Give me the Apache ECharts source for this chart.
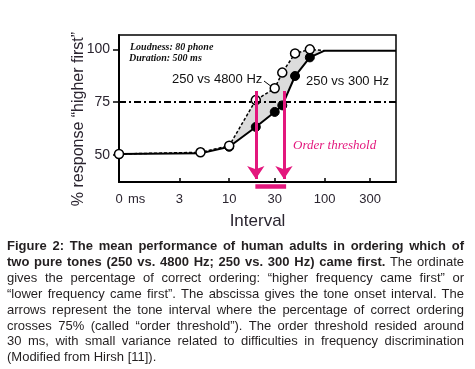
<!DOCTYPE html>
<html>
<head>
<meta charset="utf-8">
<script src="https://cdn.jsdelivr.net/npm/echarts@6/dist/echarts.min.js"></script>
<style>
  html, body { margin: 0; padding: 0; background: #fff; }
  #wrap { position: relative; width: 475px; height: 369px; }
  #chart { position: absolute; left: 0; top: 0; width: 475px; height: 369px; }
  #caption {
    position: absolute; left: 7px; top: 238px; width: 457px;
    font-family: "Liberation Sans", Arial, sans-serif; font-size: 13px;
    line-height: 15.9px; color: #231f20;
  }
  #caption span.l { display: block; white-space: nowrap; text-align: justify; text-align-last: justify; }
  #caption span.last { display: block; white-space: nowrap; }
</style>
</head>
<body>
<div id="wrap">
  <div id="chart"></div>
  <div id="caption">
    <span class="l"><b>Figure 2: The mean performance of human adults in ordering which of</b></span>
    <span class="l"><b>two pure tones (250 vs. 4800 Hz; 250 vs. 300 Hz) came first.</b> The ordinate</span>
    <span class="l">gives the percentage of correct ordering: “higher frequency came first” or</span>
    <span class="l">“lower frequency came first”. The abscissa gives the tone onset interval. The</span>
    <span class="l">arrows represent the tone interval where the percentage of correct ordering</span>
    <span class="l">crosses 75% (called “order threshold”). The order threshold resided around</span>
    <span class="l">30 ms, with small variance related to difficulties in frequency discrimination</span>
    <span class="last">(Modified from Hirsh [11]).</span>
  </div>
</div>
<script>
// tone onset interval (ms); 0 ms sits at the left end of the log axis
const intervalsMs = [0, 5, 10, 19, 30, 36, 49, 70, 100, 560];
// % "higher first", 250 vs 4800 Hz (open circles, dashed)
const wideSplit = [50.5, 51.3, 54.4, 76.0, 81.6, 89.0, 98.1, 100.0, 99.4];
const wideMarked = [0, 1, 2, 3, 4, 5, 6, 7];
// % "higher first", 250 vs 300 Hz (filled circles, solid)
const narrowSplit = [50.5, 50.8, 53.9, 63.3, 70.4, 73.5, 87.4, 96.2, 99.4, 99.4];
const narrowMarked = [2, 3, 4, 5, 6, 7];

const xTickMs = [3, 10, 30, 100, 300];
const yTicks = [50, 75, 100];
const criterion = 75;

// order threshold arrows and bar
const thresholdMs = [19, 37.5];
const arrowSpan = [80.3, 38.7];
const thresholdBarMs = [18.8, 39.5];
const thresholdBarLevel = 35.4;

const X_MIN = Math.log10(0.7);
const X_MAX = Math.log10(560);
const PINK = '#e3177d';
const INK = '#2b2530';

function toX(ms) {
    return ms === 0 ? X_MIN : Math.log10(ms);
}

function seriesData(values, marked) {
    return values.map((v, i) => {
        const item = { value: [toX(intervalsMs[i]), v] };
        if (marked.indexOf(i) < 0) item.symbol = 'none';
        return item;
    });
}

const chart = echarts.init(document.getElementById('chart'), null, { renderer: 'canvas' });

const option = {
    backgroundColor: '#fff',
    animation: false,
    grid: {
        left: 119, right: 79, top: 35, bottom: 187,
        show: true, borderColor: '#000', borderWidth: 1.5
    },
    xAxis: {
        type: 'value',
        min: X_MIN,
        max: X_MAX,
        name: 'Interval',
        nameLocation: 'middle',
        nameGap: 31,
        nameTextStyle: { fontFamily: 'Liberation Sans', fontSize: 17, color: INK },
        axisLine: { onZero: false, lineStyle: { color: '#000', width: 2 } },
        axisTick: {
            show: true, inside: true, length: 4,
            customValues: xTickMs.map(toX),
            lineStyle: { color: '#000', width: 1.5 }
        },
        axisLabel: {
            customValues: [X_MIN].concat(xTickMs.map(toX)),
            margin: 11,
            fontFamily: 'Liberation Sans', fontSize: 13, color: INK,
            formatter: function (v) {
                if (Math.abs(v - X_MIN) < 1e-6) return '0';
                return String(Math.round(Math.pow(10, v)));
            }
        },
        splitLine: { show: false }
    },
    yAxis: {
        type: 'value',
        min: 37.25,
        max: 106.8,
        name: '% response “higher first”',
        nameLocation: 'middle',
        nameGap: 32,
        nameMoveOverlap: false,
        nameTextStyle: {
            fontFamily: 'Liberation Sans', fontSize: 16, color: INK,
            padding: [0, 21, 0, 0]
        },
        axisLine: { onZero: false, lineStyle: { color: '#000', width: 2 } },
        axisTick: {
            show: true, length: 6, customValues: yTicks,
            lineStyle: { color: '#000', width: 1.5 }
        },
        axisLabel: {
            customValues: yTicks,
            margin: 9,
            fontFamily: 'Liberation Sans', fontSize: 14, color: INK
        },
        splitLine: { show: false }
    },
    graphic: [
        { type: 'text', left: 128, top: 193, style: { text: 'ms', font: '13px "Liberation Sans"', fill: INK } },
        { type: 'text', left: 130, top: 42, style: { text: 'Loudness: 80 phone', font: 'italic bold 10px "Liberation Serif"', fill: '#111' } },
        { type: 'text', left: 129, top: 53, style: { text: 'Duration: 500 ms', font: 'italic bold 10px "Liberation Serif"', fill: '#111' } },
        { type: 'text', left: 172, top: 73, style: { text: '250 vs 4800 Hz', font: '13px "Liberation Sans"', fill: '#111' } },
        { type: 'line', shape: { x1: 264, y1: 81, x2: 272, y2: 87 }, style: { stroke: '#000', lineWidth: 1 } },
        { type: 'text', left: 306, top: 75, style: { text: '250 vs 300 Hz', font: '13px "Liberation Sans"', fill: '#111' } },
        { type: 'text', left: 293, top: 139, style: { text: 'Order threshold', font: 'italic 13px "Liberation Serif"', fill: PINK } }
    ],
    series: [
        {
            name: 'gap',
            type: 'custom',
            z: 1,
            silent: true,
            data: [0],
            renderItem: function (params, api) {
                const pts = [];
                wideSplit.forEach((v, i) => pts.push(api.coord([toX(intervalsMs[i]), v])));
                for (let i = wideSplit.length - 1; i >= 0; i--) {
                    pts.push(api.coord([toX(intervalsMs[i]), narrowSplit[i]]));
                }
                return { type: 'polygon', shape: { points: pts }, style: { fill: '#dcdcdc' } };
            }
        },
        {
            name: '250 vs 300 Hz',
            type: 'line',
            z: 3,
            data: seriesData(narrowSplit, narrowMarked),
            symbol: 'circle',
            symbolSize: 9,
            itemStyle: { color: '#000', borderColor: '#000', borderWidth: 1 },
            lineStyle: { color: '#000', width: 2 },
            markLine: {
                silent: true,
                symbol: 'none',
                label: { show: false },
                lineStyle: { color: '#000', width: 2, type: [7, 3, 2, 3] },
                data: [{ yAxis: criterion }]
            }
        },
        {
            name: '250 vs 4800 Hz',
            type: 'line',
            z: 4,
            data: seriesData(wideSplit, wideMarked),
            symbol: 'circle',
            symbolSize: 9,
            itemStyle: { color: '#fff', borderColor: '#000', borderWidth: 1.5 },
            lineStyle: { color: '#000', width: 1.5, type: [3, 2] }
        },
        {
            name: 'arrows',
            type: 'lines',
            coordinateSystem: 'cartesian2d',
            z: 5,
            silent: true,
            symbol: ['none', 'arrow'],
            symbolSize: 13,
            lineStyle: { color: PINK, width: 3, opacity: 1 },
            data: thresholdMs.map(ms => ({
                coords: [[toX(ms), arrowSpan[0]], [toX(ms), arrowSpan[1]]]
            }))
        },
        {
            name: 'threshold bar',
            type: 'lines',
            coordinateSystem: 'cartesian2d',
            clip: false,
            z: 5,
            silent: true,
            lineStyle: { color: PINK, width: 4.5, opacity: 1, cap: 'butt' },
            data: [{
                coords: [[toX(thresholdBarMs[0]), thresholdBarLevel], [toX(thresholdBarMs[1]), thresholdBarLevel]]
            }]
        }
    ]
};

chart.setOption(option);
</script>
</body>
</html>
